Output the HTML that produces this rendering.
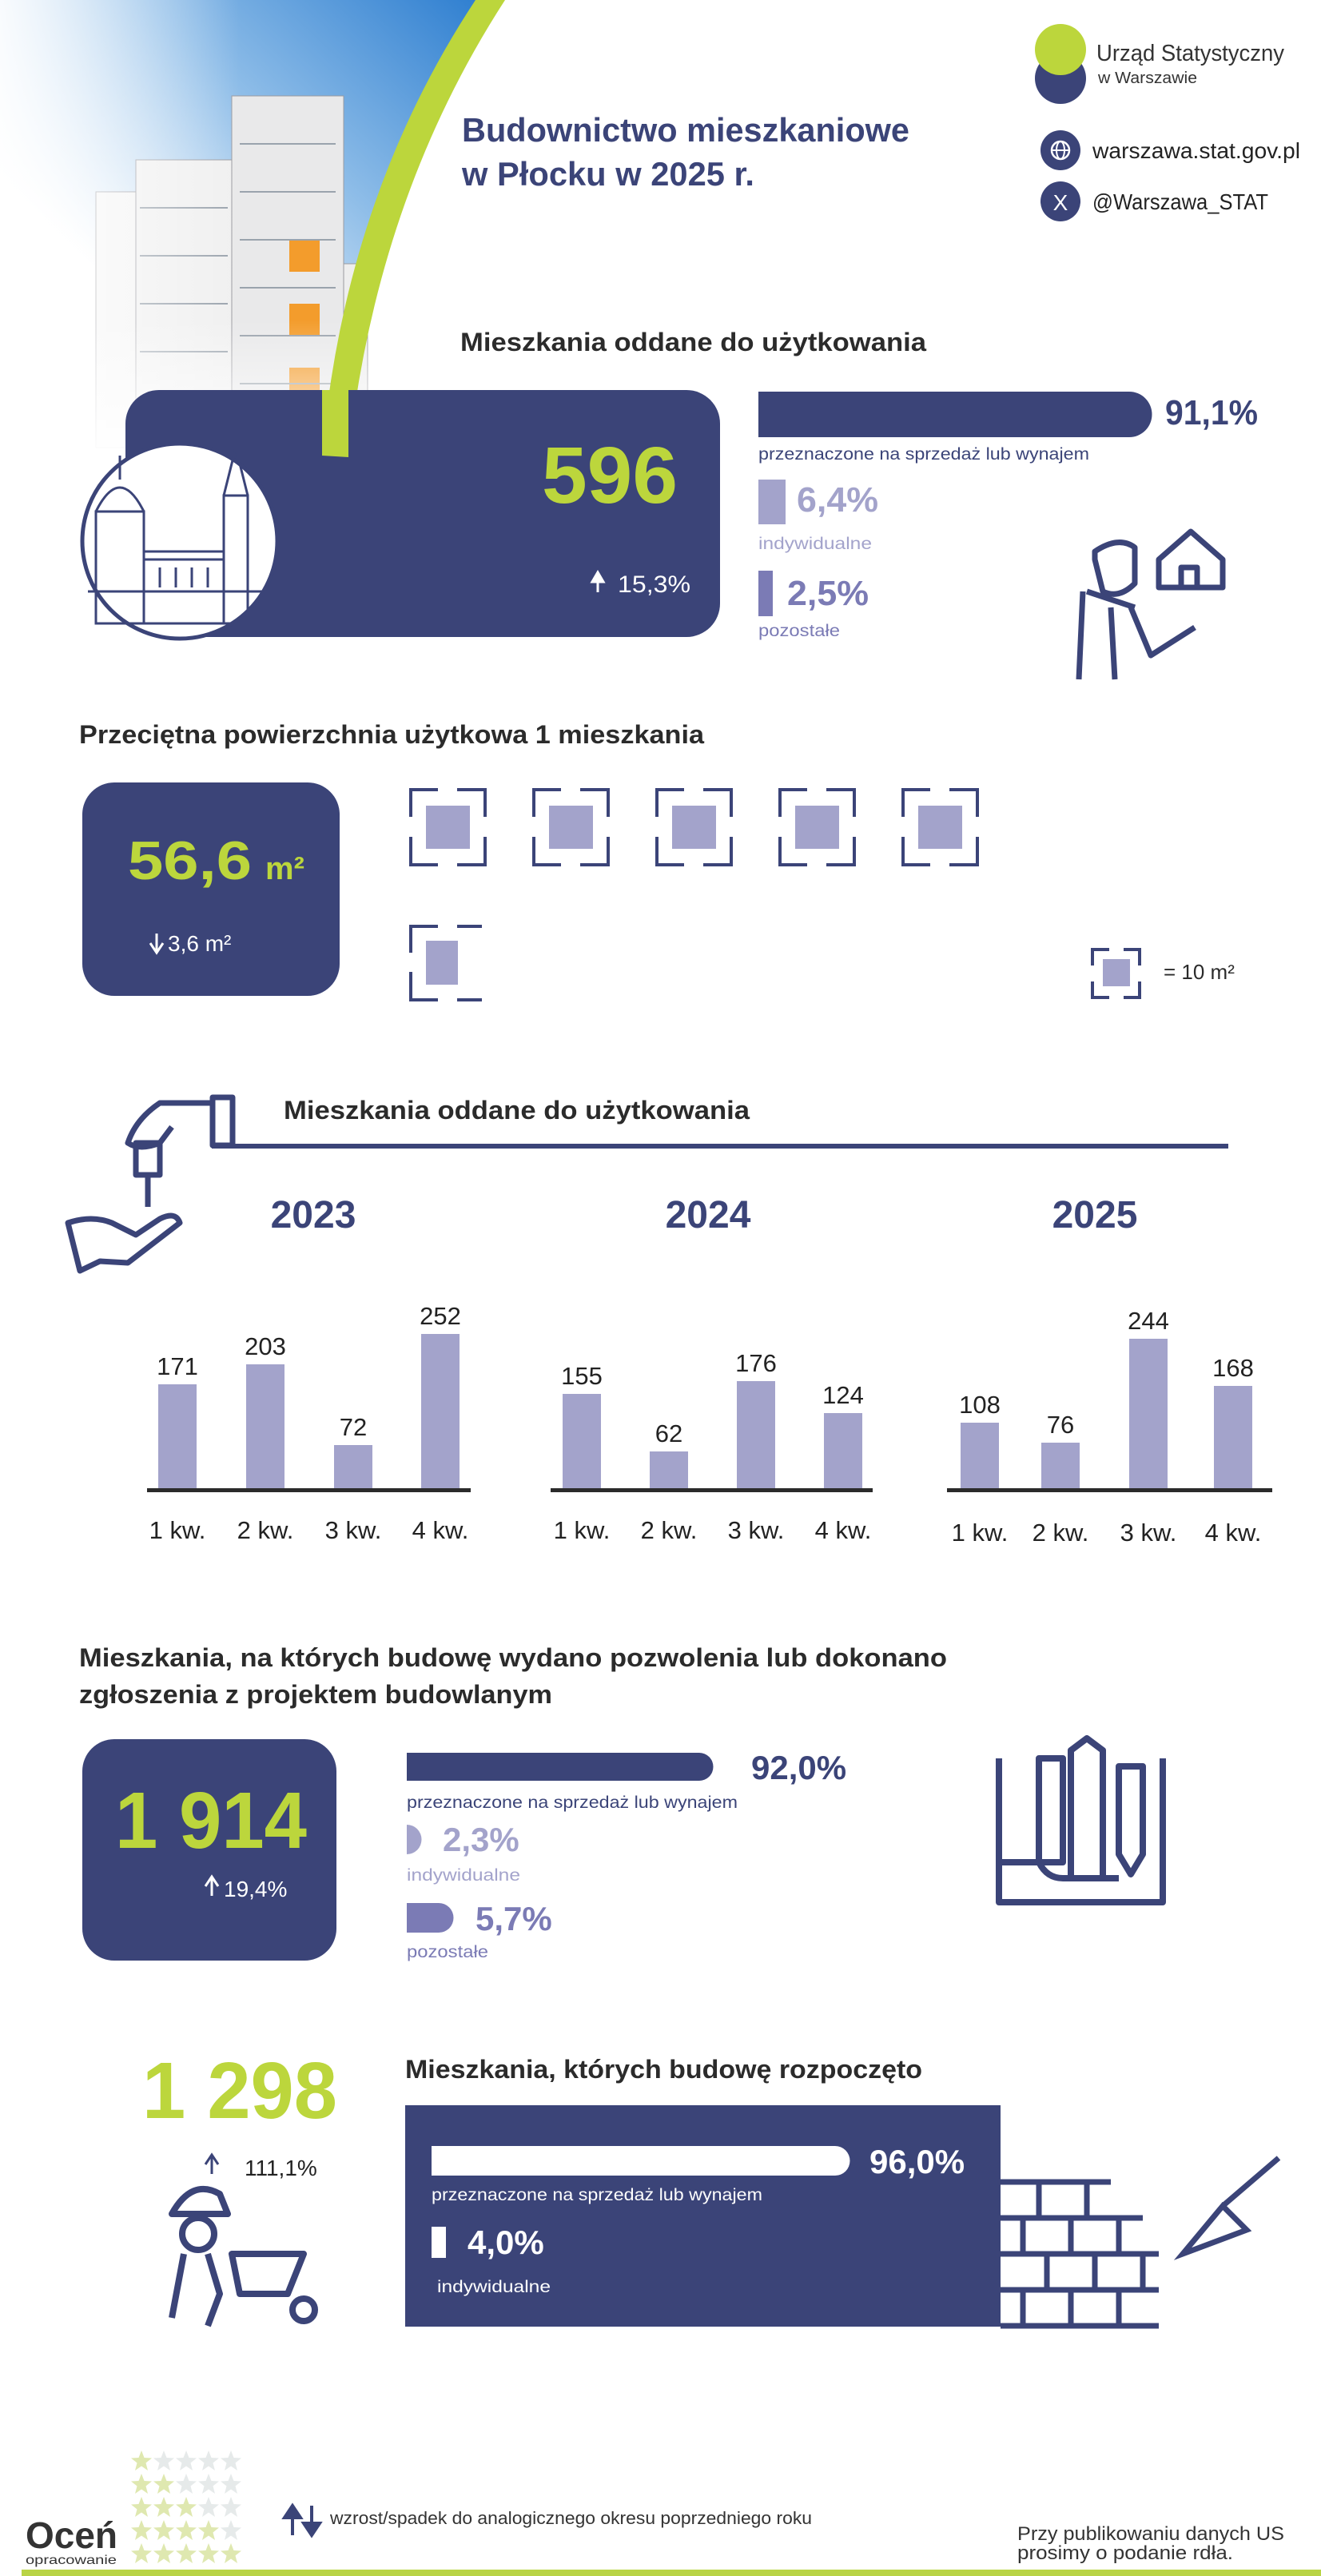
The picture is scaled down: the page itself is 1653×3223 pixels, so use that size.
<!DOCTYPE html>
<html><head><meta charset="utf-8"><style>
html,body{margin:0;padding:0;background:#fff}
svg{display:block}
text{font-family:"Liberation Sans",sans-serif}
</style></head><body>
<svg width="1653" height="3223" viewBox="0 0 1653 3223" xmlns="http://www.w3.org/2000/svg">
<defs>
<linearGradient id="sky" x1="1" y1="0" x2="0" y2="1">
<stop offset="0" stop-color="#2f7fd0"/><stop offset="0.35" stop-color="#8ebde8"/><stop offset="0.7" stop-color="#ffffff"/>
</linearGradient>
<linearGradient id="fade" x1="0" y1="0" x2="0" y2="1">
<stop offset="0" stop-color="#fff" stop-opacity="0"/><stop offset="1" stop-color="#fff" stop-opacity="1"/>
</linearGradient>
<linearGradient id="fadeL" x1="0" y1="0" x2="1" y2="0">
<stop offset="0" stop-color="#fff" stop-opacity="0.9"/><stop offset="1" stop-color="#fff" stop-opacity="0"/>
</linearGradient>
<path id="star" d="M13 0 L16.5 9 L26 9.5 L18.5 15.5 L21 25 L13 19.5 L5 25 L7.5 15.5 L0 9.5 L9.5 9 Z"/>
</defs>
<!-- photo area -->
<path d="M0 0 H600 Q470 250 430 560 H0 Z" fill="url(#sky)"/>
<g stroke="#9a9aa0" stroke-width="1">
<rect x="120" y="240" width="60" height="320" fill="#f4f4f4"/>
<rect x="170" y="200" width="120" height="360" fill="#f0f0f0"/>
<rect x="290" y="120" width="140" height="440" fill="#e9e9ea"/>
<rect x="430" y="330" width="30" height="230" fill="#eee"/>
</g>
<g fill="#f39c2c">
<rect x="362" y="300" width="38" height="40"/><rect x="362" y="380" width="38" height="40"/><rect x="362" y="460" width="38" height="40"/><rect x="362" y="520" width="38" height="30"/>
</g>
<g stroke="#9aa3ad" stroke-width="2">
<line x1="175" y1="260" x2="285" y2="260"/><line x1="175" y1="320" x2="285" y2="320"/><line x1="175" y1="380" x2="285" y2="380"/><line x1="175" y1="440" x2="285" y2="440"/><line x1="175" y1="500" x2="285" y2="500"/>
<line x1="300" y1="180" x2="420" y2="180"/><line x1="300" y1="240" x2="420" y2="240"/><line x1="300" y1="300" x2="420" y2="300"/><line x1="300" y1="360" x2="420" y2="360"/><line x1="300" y1="420" x2="420" y2="420"/><line x1="300" y1="480" x2="420" y2="480"/>
</g>
<rect x="0" y="0" width="300" height="600" fill="url(#fadeL)"/>
<rect x="0" y="400" width="470" height="180" fill="url(#fade)"/>
<!-- green arc -->
<path d="M595 0 L632 0 Q470 250 436 572 L403 570 Q430 250 595 0 Z" fill="#bcd63c"/>

<!-- title -->
<text x="578" y="177" font-size="42" font-weight="bold" fill="#3b4478" textLength="560" lengthAdjust="spacingAndGlyphs">Budownictwo mieszkaniowe</text>
<text x="578" y="232" font-size="42" font-weight="bold" fill="#3b4478" textLength="366" lengthAdjust="spacingAndGlyphs">w Płocku w 2025 r.</text>

<!-- logo -->
<circle cx="1327" cy="98" r="32" fill="#3b4478"/>
<circle cx="1327" cy="62" r="32" fill="#bcd63c"/>
<text x="1372" y="76" font-size="29" fill="#333" textLength="235" lengthAdjust="spacingAndGlyphs">Urząd Statystyczny</text>
<text x="1374" y="104" font-size="20" fill="#333" textLength="124" lengthAdjust="spacingAndGlyphs">w Warszawie</text>
<circle cx="1327" cy="188" r="25" fill="#3b4478"/>
<circle cx="1327" cy="188" r="11" fill="none" stroke="#fff" stroke-width="2.5"/>
<line x1="1316" y1="188" x2="1338" y2="188" stroke="#fff" stroke-width="2"/>
<ellipse cx="1327" cy="188" rx="5" ry="11" fill="none" stroke="#fff" stroke-width="2"/>
<text x="1367" y="198" font-size="28" fill="#222" textLength="260" lengthAdjust="spacingAndGlyphs">warszawa.stat.gov.pl</text>
<circle cx="1327" cy="252" r="25" fill="#3b4478"/>
<text x="1327" y="263" font-size="28" fill="#fff" text-anchor="middle">X</text>
<text x="1367" y="262" font-size="28" fill="#222" textLength="220" lengthAdjust="spacingAndGlyphs">@Warszawa_STAT</text>

<!-- section 1 -->
<text x="576" y="439" font-size="32" font-weight="bold" fill="#2b2b2b" textLength="583" lengthAdjust="spacingAndGlyphs">Mieszkania oddane do użytkowania</text>
<rect x="157" y="488" width="744" height="309" rx="42" fill="#3b4478"/>
<path d="M403 488 L436 488 L436 572 L403 570 Z" fill="#bcd63c"/>
<circle cx="225" cy="677" r="122" fill="#fff" stroke="#3b4478" stroke-width="5"/>
<g fill="none" stroke="#3b4478" stroke-width="3">
<line x1="110" y1="740" x2="340" y2="740"/>
<rect x="120" y="640" width="60" height="140"/>
<path d="M120 640 Q150 580 180 640"/><line x1="150" y1="600" x2="150" y2="570"/>
<rect x="180" y="690" width="100" height="90"/>
<line x1="180" y1="700" x2="280" y2="700"/>
<rect x="280" y="620" width="30" height="160"/>
<path d="M280 620 L295 560 L310 620"/><line x1="295" y1="560" x2="295" y2="540"/>
<line x1="200" y1="710" x2="200" y2="735"/><line x1="220" y1="710" x2="220" y2="735"/><line x1="240" y1="710" x2="240" y2="735"/><line x1="260" y1="710" x2="260" y2="735"/>
</g>
<text x="678" y="629" font-size="100" font-weight="bold" fill="#bcd63c" textLength="170" lengthAdjust="spacingAndGlyphs">596</text>
<path d="M748 741 V720 M741 728 L748 716 L755 728 Z" stroke="#fff" stroke-width="3" fill="#fff"/>
<text x="773" y="741" font-size="30" fill="#fff" textLength="91" lengthAdjust="spacingAndGlyphs">15,3%</text>

<path d="M949 490 H1413 A28 28 0 0 1 1413 547 H949 Z" fill="#3b4478"/>
<text x="1458" y="531" font-size="44" font-weight="bold" fill="#3b4478" textLength="116" lengthAdjust="spacingAndGlyphs">91,1%</text>
<text x="949" y="575" font-size="21" fill="#3b4478" textLength="414" lengthAdjust="spacingAndGlyphs">przeznaczone na sprzedaż lub wynajem</text>
<rect x="949" y="600" width="34" height="56" fill="#a3a3cb"/>
<text x="997" y="640" font-size="44" font-weight="bold" fill="#a3a3cb" textLength="102" lengthAdjust="spacingAndGlyphs">6,4%</text>
<text x="949" y="687" font-size="21" fill="#a3a3cb" textLength="142" lengthAdjust="spacingAndGlyphs">indywidualne</text>
<rect x="949" y="714" width="18" height="57" fill="#7b7bb5"/>
<text x="985" y="757" font-size="44" font-weight="bold" fill="#7b7bb5" textLength="102" lengthAdjust="spacingAndGlyphs">2,5%</text>
<text x="949" y="796" font-size="21" fill="#7b7bb5" textLength="102" lengthAdjust="spacingAndGlyphs">pozostałe</text>
<!-- person icon -->
<g fill="none" stroke="#3b4478" stroke-width="7" stroke-linejoin="round">
<path d="M1370 690 Q1400 670 1420 685 L1420 730 Q1400 750 1380 740 L1370 700 Z"/>
<path d="M1355 740 L1350 850 M1390 760 L1395 850 M1415 760 L1440 820 L1495 785"/>
<path d="M1360 740 L1420 760"/>
<path d="M1450 700 L1490 665 L1530 700 V735 H1450 Z"/>
<rect x="1478" y="710" width="20" height="25"/>
</g>

<!-- section 2 -->
<text x="99" y="930" font-size="32" font-weight="bold" fill="#2b2b2b" textLength="782" lengthAdjust="spacingAndGlyphs">Przeciętna powierzchnia użytkowa 1 mieszkania</text>
<rect x="103" y="979" width="322" height="267" rx="40" fill="#3b4478"/>
<text x="160" y="1100" font-size="68" font-weight="bold" fill="#bcd63c" textLength="155" lengthAdjust="spacingAndGlyphs">56,6</text>
<text x="332" y="1100" font-size="40" font-weight="bold" fill="#bcd63c">m²</text>
<path d="M196 1168 V1190 M188 1180 L196 1192 L204 1180" stroke="#fff" stroke-width="3" fill="none"/>
<text x="210" y="1190" font-size="28" fill="#fff">3,6 m²</text>
<g id="sq" fill="none" stroke="#3b4478" stroke-width="4">
<path d="M514 1022 V988 H548 M572 988 H607 V1022 M607 1047 V1082 H572 M548 1082 H514 V1047"/>
</g>
<rect x="533" y="1008" width="55" height="54" fill="#a3a3cb"/>
<use href="#sq" x="154"/><rect x="687" y="1008" width="55" height="54" fill="#a3a3cb"/>
<use href="#sq" x="308"/><rect x="841" y="1008" width="55" height="54" fill="#a3a3cb"/>
<use href="#sq" x="462"/><rect x="995" y="1008" width="55" height="54" fill="#a3a3cb"/>
<use href="#sq" x="616"/><rect x="1149" y="1008" width="55" height="54" fill="#a3a3cb"/>
<path d="M514 1192 V1159 H548 M572 1159 H603 M603 1251 H572 M548 1251 H514 V1216" fill="none" stroke="#3b4478" stroke-width="4"/>
<rect x="533" y="1177" width="40" height="55" fill="#a3a3cb"/>
<path d="M1367 1208 V1188 H1388 M1406 1188 H1426 V1208 M1426 1228 V1248 H1406 M1388 1248 H1367 V1228" fill="none" stroke="#3b4478" stroke-width="4"/>
<rect x="1380" y="1200" width="34" height="34" fill="#a3a3cb"/>
<text x="1456" y="1225" font-size="26" fill="#2b2b2b">= 10 m²</text>

<!-- section 3 -->
<g fill="none" stroke="#3b4478" stroke-width="7" stroke-linejoin="round">
<rect x="266" y="1373" width="25" height="60"/>
<path d="M266 1380 H200 Q170 1400 160 1430 Q175 1440 200 1430 L215 1410"/>
<rect x="170" y="1430" width="30" height="40"/>
<line x1="185" y1="1470" x2="185" y2="1510"/>
<path d="M85 1530 L100 1590 L125 1578 L160 1580 L225 1530 Q220 1515 200 1525 L170 1545 L140 1530 Q115 1520 85 1530 Z"/>
</g>
<text x="355" y="1400" font-size="32" font-weight="bold" fill="#2b2b2b" textLength="583" lengthAdjust="spacingAndGlyphs">Mieszkania oddane do użytkowania</text>
<rect x="265" y="1431" width="1272" height="6" fill="#3b4478"/>
<g font-size="48" font-weight="bold" fill="#3b4478" text-anchor="middle">
<text x="392" y="1536">2023</text><text x="886" y="1536">2024</text><text x="1370" y="1536">2025</text>
</g>
<g fill="#a3a3cb">
<rect x="198" y="1732" width="48" height="132"/><rect x="308" y="1707" width="48" height="157"/><rect x="418" y="1808" width="48" height="56"/><rect x="527" y="1669" width="48" height="195"/>
<rect x="704" y="1744" width="48" height="120"/><rect x="813" y="1816" width="48" height="48"/><rect x="922" y="1728" width="48" height="136"/><rect x="1031" y="1768" width="48" height="96"/>
<rect x="1202" y="1780" width="48" height="84"/><rect x="1303" y="1805" width="48" height="59"/><rect x="1413" y="1675" width="48" height="189"/><rect x="1519" y="1734" width="48" height="130"/>
</g>
<g fill="#2b2b2b">
<rect x="184" y="1862" width="405" height="5"/><rect x="689" y="1862" width="403" height="5"/><rect x="1185" y="1862" width="407" height="5"/>
</g>
<g font-size="31" fill="#222" text-anchor="middle">
<text x="222" y="1720">171</text><text x="332" y="1695">203</text><text x="442" y="1796">72</text><text x="551" y="1657">252</text>
<text x="728" y="1732">155</text><text x="837" y="1804">62</text><text x="946" y="1716">176</text><text x="1055" y="1756">124</text>
<text x="1226" y="1768">108</text><text x="1327" y="1793">76</text><text x="1437" y="1663">244</text><text x="1543" y="1722">168</text>
</g>
<g font-size="31" fill="#222" text-anchor="middle">
<text x="222" y="1925">1 kw.</text><text x="332" y="1925">2 kw.</text><text x="442" y="1925">3 kw.</text><text x="551" y="1925">4 kw.</text>
<text x="728" y="1925">1 kw.</text><text x="837" y="1925">2 kw.</text><text x="946" y="1925">3 kw.</text><text x="1055" y="1925">4 kw.</text>
<text x="1226" y="1928">1 kw.</text><text x="1327" y="1928">2 kw.</text><text x="1437" y="1928">3 kw.</text><text x="1543" y="1928">4 kw.</text>
</g>

<!-- section 4 -->
<text x="99" y="2085" font-size="32" font-weight="bold" fill="#2b2b2b" textLength="1086" lengthAdjust="spacingAndGlyphs">Mieszkania, na których budowę wydano pozwolenia lub dokonano</text>
<text x="99" y="2131" font-size="32" font-weight="bold" fill="#2b2b2b" textLength="592" lengthAdjust="spacingAndGlyphs">zgłoszenia z projektem budowlanym</text>
<rect x="103" y="2176" width="318" height="277" rx="40" fill="#3b4478"/>
<text x="144" y="2312" font-size="100" font-weight="bold" fill="#bcd63c" textLength="240" lengthAdjust="spacingAndGlyphs">1 914</text>
<path d="M265 2372 V2350 M257 2360 L265 2348 L273 2360" stroke="#fff" stroke-width="3" fill="none"/>
<text x="280" y="2373" font-size="28" fill="#fff">19,4%</text>
<path d="M509 2193 H875 A17.5 17.5 0 0 1 875 2228 H509 Z" fill="#3b4478"/>
<text x="940" y="2226" font-size="42" font-weight="bold" fill="#3b4478">92,0%</text>
<text x="509" y="2262" font-size="21" fill="#3b4478" textLength="414" lengthAdjust="spacingAndGlyphs">przeznaczone na sprzedaż lub wynajem</text>
<path d="M509 2283 A18 18 0 0 1 509 2320 Z" fill="#a3a3cb"/>
<text x="554" y="2316" font-size="42" font-weight="bold" fill="#a3a3cb">2,3%</text>
<text x="509" y="2353" font-size="21" fill="#a3a3cb" textLength="142" lengthAdjust="spacingAndGlyphs">indywidualne</text>
<path d="M509 2381 H549 A18 18 0 0 1 549 2418 H509 Z" fill="#7b7bb5"/>
<text x="595" y="2415" font-size="42" font-weight="bold" fill="#7b7bb5">5,7%</text>
<text x="509" y="2449" font-size="21" fill="#7b7bb5" textLength="102" lengthAdjust="spacingAndGlyphs">pozostałe</text>
<g fill="none" stroke="#3b4478" stroke-width="8" stroke-linejoin="round">
<path d="M1250 2200 V2380 H1455 V2200"/>
<path d="M1250 2330 H1300 Q1310 2350 1330 2350 H1400"/>
<rect x="1300" y="2200" width="30" height="130"/>
<path d="M1340 2350 V2190 L1360 2175 L1380 2190 V2350"/>
<path d="M1400 2210 H1430 V2320 L1415 2345 L1400 2320 Z"/>
</g>

<!-- section 5 -->
<text x="178" y="2650" font-size="100" font-weight="bold" fill="#bcd63c" textLength="244" lengthAdjust="spacingAndGlyphs">1 298</text>
<path d="M265 2720 V2698 M257 2708 L265 2696 L273 2708" stroke="#3b4478" stroke-width="3" fill="none"/>
<text x="306" y="2722" font-size="28" fill="#222">111,1%</text>
<g fill="none" stroke="#3b4478" stroke-width="8" stroke-linejoin="round">
<path d="M215 2770 Q240 2725 275 2745 L285 2770 Z"/>
<circle cx="248" cy="2795" r="20"/>
<path d="M230 2820 L215 2900 M260 2820 L275 2870 L260 2910"/>
<path d="M290 2820 L380 2820 L360 2870 L300 2870 Z"/>
<circle cx="380" cy="2890" r="14"/>
</g>
<text x="507" y="2600" font-size="32" font-weight="bold" fill="#2b2b2b" textLength="647" lengthAdjust="spacingAndGlyphs">Mieszkania, których budowę rozpoczęto</text>
<rect x="507" y="2634" width="745" height="277" fill="#3b4478"/>
<path d="M540 2685 H1045 A18.5 18.5 0 0 1 1045 2722 H540 Z" fill="#fff"/>
<text x="1088" y="2719" font-size="42" font-weight="bold" fill="#fff">96,0%</text>
<text x="540" y="2753" font-size="21" fill="#fff" textLength="414" lengthAdjust="spacingAndGlyphs">przeznaczone na sprzedaż lub wynajem</text>
<rect x="540" y="2786" width="18" height="39" fill="#fff"/>
<text x="585" y="2820" font-size="42" font-weight="bold" fill="#fff">4,0%</text>
<text x="547" y="2868" font-size="21" fill="#fff" textLength="142" lengthAdjust="spacingAndGlyphs">indywidualne</text>
<g fill="none" stroke="#3b4478" stroke-width="7">
<path d="M1252 2730 H1390 M1252 2775 H1430 M1252 2820 H1450 M1252 2865 H1450 M1252 2910 H1450"/>
<path d="M1300 2730 V2775 M1360 2730 V2775 M1280 2775 V2820 M1340 2775 V2820 M1400 2775 V2820 M1310 2820 V2865 M1370 2820 V2865 M1430 2820 V2865 M1280 2865 V2910 M1340 2865 V2910 M1400 2865 V2910"/>
<path d="M1480 2820 L1530 2760 L1560 2790 Z M1530 2760 L1600 2700"/>
</g>

<!-- footer stars -->
<g fill="#dfe8b0">
<use href="#star" x="164" y="3066"/>
<use href="#star" x="164" y="3095"/><use href="#star" x="192" y="3095"/>
<use href="#star" x="164" y="3124"/><use href="#star" x="192" y="3124"/><use href="#star" x="220" y="3124"/>
<use href="#star" x="164" y="3153"/><use href="#star" x="192" y="3153"/><use href="#star" x="220" y="3153"/><use href="#star" x="248" y="3153"/>
<use href="#star" x="164" y="3182"/><use href="#star" x="192" y="3182"/><use href="#star" x="220" y="3182"/><use href="#star" x="248" y="3182"/><use href="#star" x="276" y="3182"/>
</g>
<g fill="#e6eaea">
<use href="#star" x="192" y="3066"/><use href="#star" x="220" y="3066"/><use href="#star" x="248" y="3066"/><use href="#star" x="276" y="3066"/>
<use href="#star" x="220" y="3095"/><use href="#star" x="248" y="3095"/><use href="#star" x="276" y="3095"/>
<use href="#star" x="248" y="3124"/><use href="#star" x="276" y="3124"/>
<use href="#star" x="276" y="3153"/>
</g>
<text x="32" y="3188" font-size="46" font-weight="bold" fill="#333" textLength="115" lengthAdjust="spacingAndGlyphs">Oceń</text>
<text x="32" y="3208" font-size="16" fill="#333" textLength="114" lengthAdjust="spacingAndGlyphs">opracowanie</text>
<path d="M366 3172 V3145 M356 3150 L366 3135 L376 3150 Z M390 3135 V3162 M380 3157 L390 3172 L400 3157 Z" stroke="#3b4478" stroke-width="4" fill="#3b4478"/>
<text x="413" y="3158" font-size="22" fill="#333" textLength="603" lengthAdjust="spacingAndGlyphs">wzrost/spadek do analogicznego okresu poprzedniego roku</text>
<text x="1273" y="3178" font-size="24" fill="#333" textLength="334" lengthAdjust="spacingAndGlyphs">Przy publikowaniu danych US</text>
<text x="1273" y="3202" font-size="24" fill="#333" textLength="270" lengthAdjust="spacingAndGlyphs">prosimy o podanie rdła.</text>
<rect x="27" y="3215" width="1626" height="8" fill="#b9d446"/>
</svg>
</body></html>
